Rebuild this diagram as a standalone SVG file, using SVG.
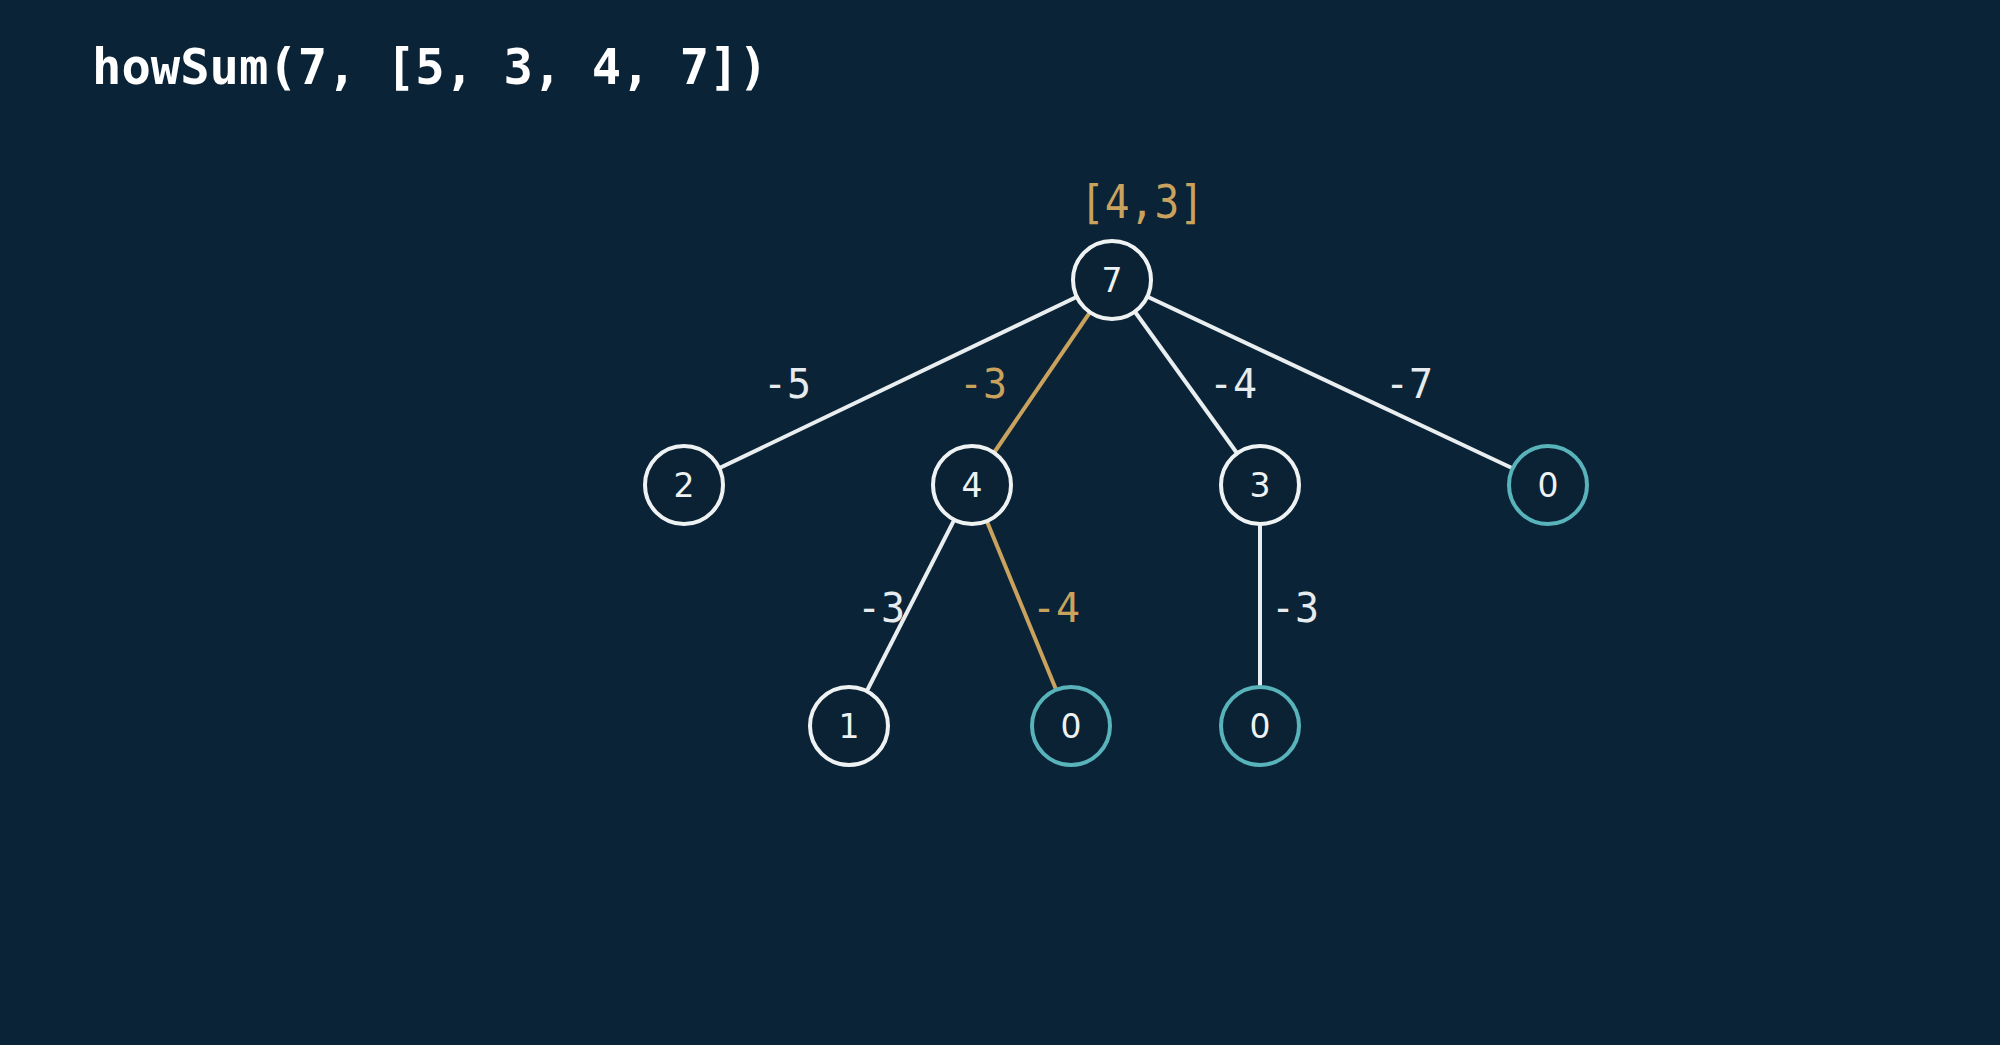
<svg xmlns="http://www.w3.org/2000/svg" width="2000" height="1045" viewBox="0 0 2000 1045">
<style>
.bg{fill:#0b2336}
.edge{stroke:#e9eef0;stroke-width:4;fill:none}
.edge.hl{stroke:#c9a25e}
.node circle{fill:#0b2234;stroke:#eef2f3;stroke-width:4}
.node.leaf circle{stroke:#58b3bb}
.node text{font-family:"DejaVu Sans","Noto Sans",sans-serif;font-size:33px;fill:#eef2f3;text-anchor:middle}
.lbl{font-family:"DejaVu Sans Mono","Liberation Mono",monospace;font-size:40px;fill:#e6ebee;text-anchor:middle}
.lbl.hl{fill:#c9a25e}
.title{font-family:"DejaVu Sans Mono","Liberation Mono",monospace;font-weight:bold;font-size:49px;fill:#ffffff}
.res{font-family:"DejaVu Sans Mono","Liberation Mono",monospace;font-size:46px;fill:#c9a25e;text-anchor:middle}
</style>
<rect class="bg" x="0" y="0" width="2000" height="1045"/>
<text class="title" x="92" y="84" textLength="676" lengthAdjust="spacingAndGlyphs">howSum(7, [5, 3, 4, 7])</text>
<text class="res" x="1142" y="218" textLength="124" lengthAdjust="spacingAndGlyphs">[4,3]</text>
<g id="connectors">
<line class="edge" x1="1112" y1="280" x2="684" y2="485"/>
<line class="edge hl" x1="1112" y1="280" x2="972" y2="485"/>
<line class="edge" x1="1112" y1="280" x2="1260" y2="485"/>
<line class="edge" x1="1112" y1="280" x2="1548" y2="485"/>
<line class="edge" x1="972" y1="485" x2="849" y2="726"/>
<line class="edge hl" x1="972" y1="485" x2="1071" y2="726"/>
<line class="edge" x1="1260" y1="485" x2="1260" y2="726"/>
<text class="lbl" x="787" y="398">-5</text>
<text class="lbl hl" x="983" y="398">-3</text>
<text class="lbl" x="1233" y="398">-4</text>
<text class="lbl" x="1409" y="398">-7</text>
<text class="lbl" x="881" y="622">-3</text>
<text class="lbl hl" x="1056" y="622">-4</text>
<text class="lbl" x="1295" y="622">-3</text>
</g>
<g id="n7" class="node"><circle cx="1112" cy="280" r="39"/><text x="1112" y="292">7</text></g>
<g id="n2" class="node"><circle cx="684" cy="485" r="39"/><text x="684" y="497">2</text></g>
<g id="n4" class="node"><circle cx="972" cy="485" r="39"/><text x="972" y="497">4</text></g>
<g id="n3" class="node"><circle cx="1260" cy="485" r="39"/><text x="1260" y="497">3</text></g>
<g id="n0a" class="node leaf"><circle cx="1548" cy="485" r="39"/><text x="1548" y="497">0</text></g>
<g id="n1" class="node"><circle cx="849" cy="726" r="39"/><text x="849" y="738">1</text></g>
<g id="n0b" class="node leaf"><circle cx="1071" cy="726" r="39"/><text x="1071" y="738">0</text></g>
<g id="n0c" class="node leaf"><circle cx="1260" cy="726" r="39"/><text x="1260" y="738">0</text></g>
</svg>
